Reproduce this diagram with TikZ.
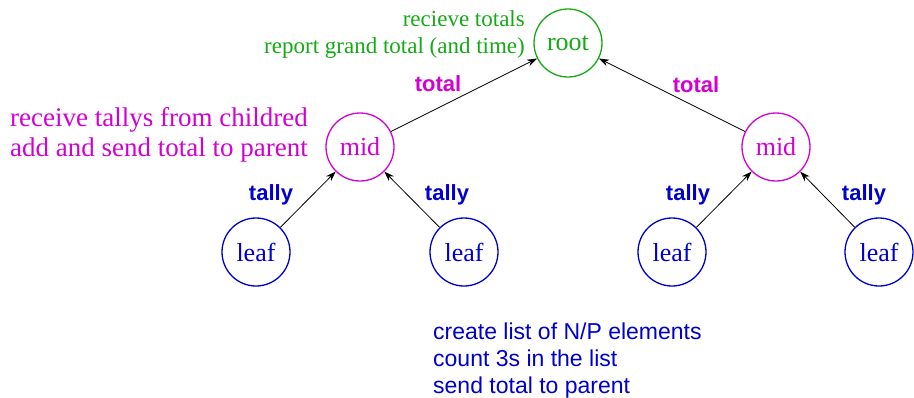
\documentclass[tikz,border=0pt]{standalone}
\usepackage{fontspec}
\setmainfont{Liberation Serif}
\setsansfont{Liberation Sans}
\usetikzlibrary{positioning,shapes,arrows.meta}
\definecolor{rootgreen}{RGB}{20,170,20}
\definecolor{midmag}{RGB}{210,0,210}
\definecolor{leafblue}{RGB}{0,0,205}
\begin{document}
\begin{tikzpicture}[x=1pt,y=-1pt,
  proc/.style={draw,shape=circle,line width=1.3pt,minimum size=68pt,inner sep=0pt,font=\fontsize{26}{30}\selectfont},
  msg/.style={font=\sffamily\bfseries\fontsize{22}{26}\selectfont},
  edge/.style={-{Stealth[length=10pt,width=7pt]},line width=0.8pt}]
\useasboundingbox (0,0) rectangle (914,397);

\draw node (root) at (568,43) [proc,rootgreen]{root};
\draw node (mid1) at (360,147) [proc,midmag]{mid};
\draw node (mid2) at (776,147) [proc,midmag]{mid};
\draw node (leaf1) at (256,252) [proc,leafblue]{leaf};
\draw node (leaf2) at (464,252) [proc,leafblue]{leaf};
\draw node (leaf3) at (672,252) [proc,leafblue]{leaf};
\draw node (leaf4) at (879,252) [proc,leafblue]{leaf};

\draw[edge] (mid1) -- (root);
\draw[edge] (mid2) -- (root);
\draw[edge] (leaf1) -- (mid1);
\draw[edge] (leaf2) -- (mid1);
\draw[edge] (leaf3) -- (mid2);
\draw[edge] (leaf4) -- (mid2);

%% message labels
\draw node (tot1) at (438,84) [msg,midmag]{total};
\draw node (tot2) at (696,85) [msg,midmag]{total};
\draw node (tal1) at (271,195) [msg,leafblue]{tally};
\draw node (tal2) at (447,195) [msg,leafblue]{tally};
\draw node (tal3) at (688,195) [msg,leafblue]{tally};
\draw node (tal4) at (864,195) [msg,leafblue]{tally};

%% what each level does
\draw node (rootnote) at (525,34) [anchor=east,align=right,rootgreen,inner sep=0pt,
  font=\fontsize{23}{27}\selectfont]{recieve totals\\report grand total (and time)};
\draw node (midnote) at (308,135) [anchor=east,align=left,midmag,inner sep=0pt,
  font=\fontsize{27}{30}\selectfont]{receive tallys from childred\\add and send total to parent};
\draw node (leafnote) at (433,361) [anchor=west,align=left,leafblue,inner sep=0pt,
  font=\sffamily\fontsize{23}{27}\selectfont]{create list of N/P elements\\count 3s in the list\\send total to parent};
\end{tikzpicture}
\end{document}
